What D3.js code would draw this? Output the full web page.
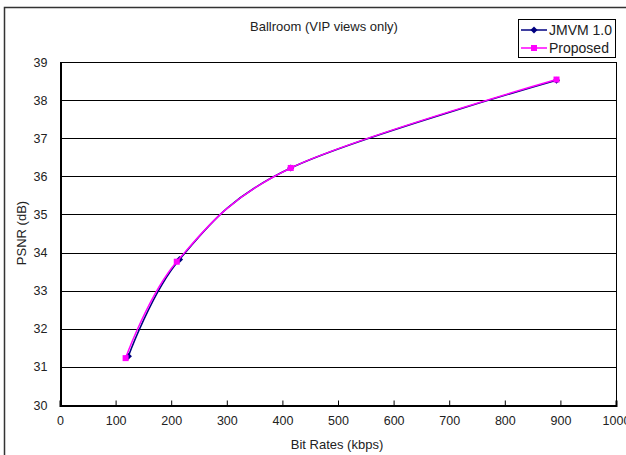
<!DOCTYPE html>
<html>
<head>
<meta charset="utf-8">
<script src="https://cdn.jsdelivr.net/npm/d3@7"></script>
<style>
  body { margin: 0; background: #fff; }
  text { font-family: "Liberation Sans", Arial, sans-serif; fill: #222; }
</style>
</head>
<body>
<svg id="chart" width="626" height="455"></svg>
<script>
// values
var jmvmRate = [123, 215, 415, 893];
var jmvmPsnr = [31.28, 33.82, 36.22, 38.52];
var propRate = [118, 210, 415, 893];
var propPsnr = [31.23, 33.76, 36.22, 38.54];
var xTicks = [0, 100, 200, 300, 400, 500, 600, 700, 800, 900, 1000];
var yTicks = [30, 31, 32, 33, 34, 35, 36, 37, 38, 39];

var svg = d3.select("#chart");

var plotLeft = 60, plotRight = 616, plotTop = 62, plotBottom = 405;

var x = d3.scaleLinear().domain([0, 1000]).range([plotLeft, plotRight]);
var y = d3.scaleLinear().domain([30, 39]).range([plotBottom, plotTop]);

// outer chart frame
svg.append("rect")
   .attr("x", 4.5).attr("y", 7.5)
   .attr("width", 660).attr("height", 470)
   .attr("fill", "#fff")
   .attr("stroke", "#333").attr("stroke-width", 1.5);

// gridlines
svg.append("g")
   .selectAll("line")
   .data(yTicks)
   .enter().append("line")
   .attr("x1", plotLeft).attr("x2", plotRight)
   .attr("y1", function(d) { return Math.round(y(d)) + 0.5; })
   .attr("y2", function(d) { return Math.round(y(d)) + 0.5; })
   .attr("stroke", "#000").attr("stroke-width", 1);

// plot frame
svg.append("rect")
   .attr("x", plotLeft + 0.5).attr("y", plotTop + 0.5)
   .attr("width", plotRight - plotLeft).attr("height", plotBottom - plotTop)
   .attr("fill", "none").attr("stroke", "#000").attr("stroke-width", 1);

// x axis, ticks pointing inward
var xAxis = d3.axisBottom(x).tickValues(xTicks).tickFormat(d3.format("d"))
   .tickSize(-5).tickPadding(11);
var gx = svg.append("g")
   .attr("transform", "translate(0," + (plotBottom + 0.5) + ")")
   .call(xAxis);
gx.select(".domain").attr("stroke", "#000").attr("stroke-width", 2);
gx.selectAll(".tick line").attr("stroke", "#000");
gx.selectAll("text").style("font-size", "12.5px").attr("fill", "#222")
  .style("font-family", "'Liberation Sans', Arial, sans-serif");

// y axis labels
var yAxis = d3.axisLeft(y).tickValues(yTicks).tickSize(0).tickPadding(13);
var gy = svg.append("g")
   .attr("transform", "translate(" + (plotLeft + 0.5) + ",0)")
   .call(yAxis);
gy.select(".domain").attr("stroke", "#000").attr("stroke-width", 2);
gy.selectAll("text").style("font-size", "12.5px").attr("fill", "#222")
  .style("font-family", "'Liberation Sans', Arial, sans-serif");

// titles
svg.append("text")
   .attr("x", 324).attr("y", 31)
   .attr("text-anchor", "middle")
   .style("font-size", "13px")
   .text("Ballroom (VIP views only)");

svg.append("text")
   .attr("x", 337).attr("y", 449)
   .attr("text-anchor", "middle")
   .style("font-size", "13px")
   .text("Bit Rates (kbps)");

svg.append("text")
   .attr("transform", "translate(26,233) rotate(-90)")
   .attr("text-anchor", "middle")
   .style("font-size", "13px")
   .text("PSNR (dB)");

// series
var line = d3.line()
   .x(function(d) { return x(d[0]); })
   .y(function(d) { return y(d[1]); })
   .curve(d3.curveCardinal.tension(0));

var jmvm = d3.zip(jmvmRate, jmvmPsnr);
var prop = d3.zip(propRate, propPsnr);

svg.append("path")
   .datum(jmvm)
   .attr("d", line)
   .attr("fill", "none").attr("stroke", "#000080").attr("stroke-width", 1.5);

svg.selectAll(".jm")
   .data(jmvm)
   .enter().append("path")
   .attr("class", "jm")
   .attr("transform", function(d) { return "translate(" + x(d[0]) + "," + y(d[1]) + ") rotate(45)"; })
   .attr("d", "M-2.5,-2.5h5v5h-5z")
   .attr("fill", "#000080");

svg.append("path")
   .datum(prop)
   .attr("d", line)
   .attr("fill", "none").attr("stroke", "#ff00ff").attr("stroke-width", 1.5);

svg.selectAll(".pr")
   .data(prop)
   .enter().append("rect")
   .attr("class", "pr")
   .attr("x", function(d) { return x(d[0]) - 3; })
   .attr("y", function(d) { return y(d[1]) - 3; })
   .attr("width", 6).attr("height", 6)
   .attr("fill", "#ff00ff");

// legend
var lg = svg.append("g");
lg.append("rect")
  .attr("x", 518.5).attr("y", 19.5)
  .attr("width", 97).attr("height", 38)
  .attr("fill", "#fff").attr("stroke", "#000");

var legendItems = [
  {name: "JMVM 1.0", color: "#000080", shape: "diamond"},
  {name: "Proposed", color: "#ff00ff", shape: "square"}
];

legendItems.forEach(function(it, i) {
  var ly = 30 + i * 18;
  lg.append("line")
    .attr("x1", 521).attr("x2", 547)
    .attr("y1", ly).attr("y2", ly)
    .attr("stroke", it.color).attr("stroke-width", 1.5);
  if (it.shape === "diamond") {
    lg.append("path")
      .attr("transform", "translate(534," + ly + ") rotate(45)")
      .attr("d", "M-2.5,-2.5h5v5h-5z")
      .attr("fill", it.color);
  } else {
    lg.append("rect")
      .attr("x", 531).attr("y", ly - 3)
      .attr("width", 6).attr("height", 6)
      .attr("fill", it.color);
  }
  lg.append("text")
    .attr("x", 549).attr("y", ly + 5)
    .style("font-size", "14px")
    .text(it.name);
});
</script>
</body>
</html>
